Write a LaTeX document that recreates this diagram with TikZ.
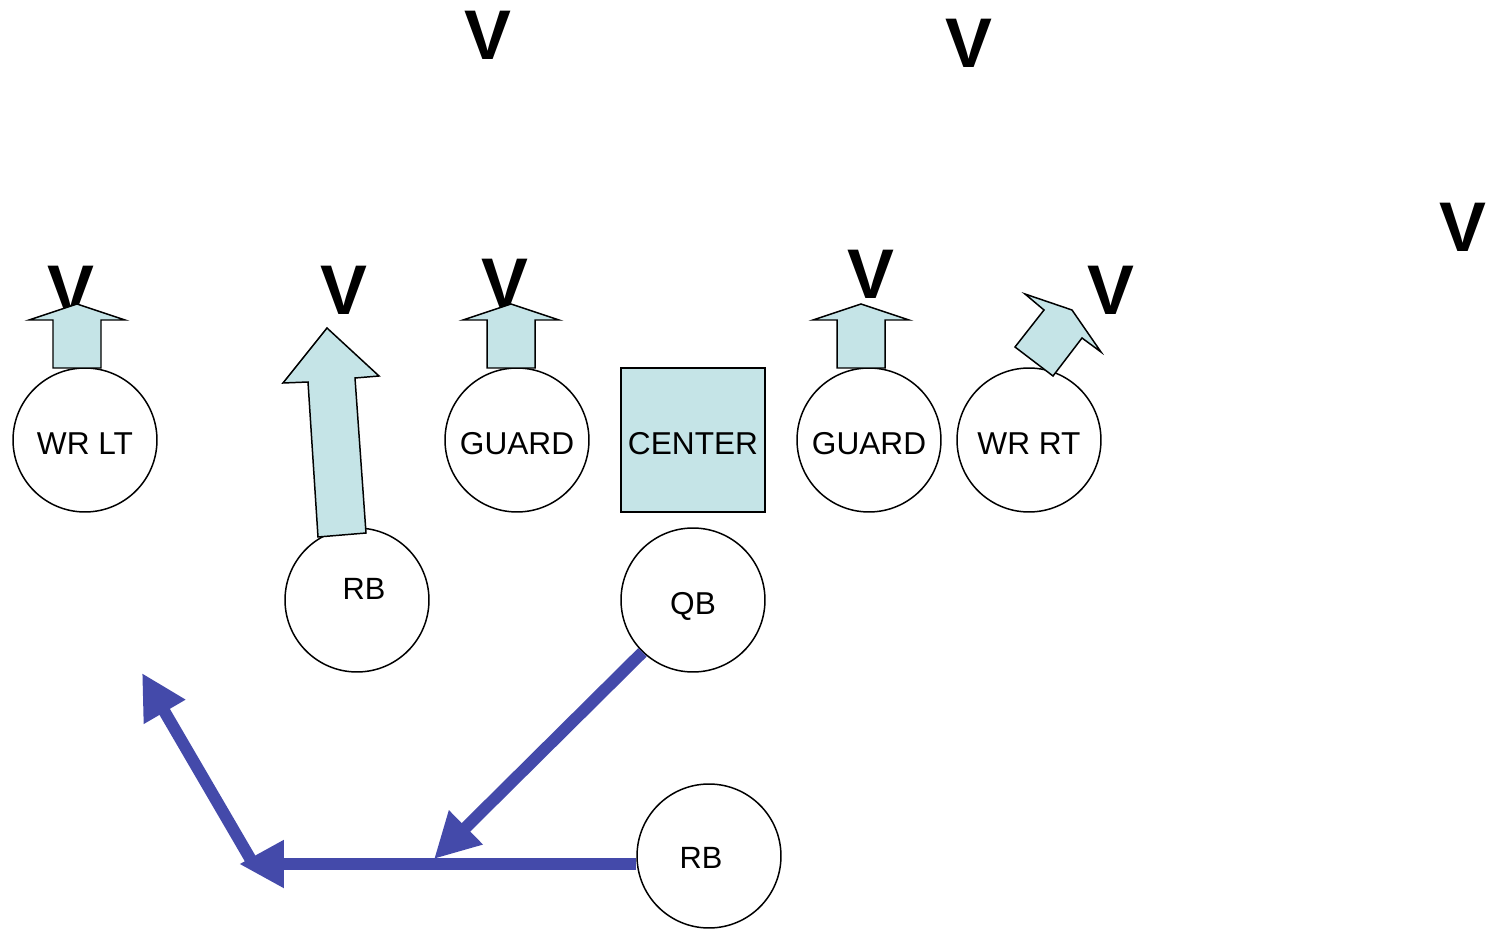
\documentclass[tikz,border=0pt]{standalone}
\usepackage{fontspec}
\setmainfont{Liberation Sans}
\usetikzlibrary{arrows.meta}
\definecolor{padblue}{RGB}{197,228,231}
\definecolor{routeblue}{RGB}{68,74,170}
\tikzset{
  player/.style={circle,draw,line width=0.85pt,minimum size=2.88cm,inner sep=0pt,
    font=\fontsize{18pt}{20pt}\selectfont,text height=0.6cm,text depth=0pt},
  snapper/.style={rectangle,draw,line width=0.85pt,fill=padblue,minimum size=2.88cm,inner sep=0pt,
    font=\fontsize{18pt}{20pt}\selectfont,text height=0.6cm,text depth=0pt},
  backtag/.style={inner sep=0pt,font=\fontsize{17.5pt}{19pt}\selectfont},
  defender/.style={inner sep=0pt,font=\fontsize{40pt}{40pt}\selectfont\bfseries},
  blockarrow/.style={draw,line width=0.85pt,fill=padblue,line join=miter},
  route/.style={draw=routeblue,line width=0.24cm,-{Triangle[length=0.9cm,width=0.9cm]}}
}
\begin{document}
\begin{tikzpicture}[x=0.02cm,y=-0.02cm]
      \useasboundingbox (0,0) rectangle (1489,929);
      \draw
        (488,35) node[defender] (v1){V}
        (969,43) node[defender] (v2){V}
        (1463,227) node[defender] (v3){V}
        (71,290) node[defender] (v4){V}
        (344,290) node[defender] (v5){V}
        (505,283) node[defender] (v6){V}
        (871,274) node[defender] (v7){V}
        (1111,290) node[defender] (v8){V};
      \draw
        (85,440) node[player] (wrlt){WR LT}
        (517,440) node[player] (guardl){GUARD}
        (693,440) node[snapper] (center){CENTER}
        (869,440) node[player] (guardr){GUARD}
        (1029,440) node[player] (wrrt){WR RT}
        (357,600) node[player,label={[backtag,xshift=0.14cm,yshift=0.22cm]center:RB}] (rbl){}
        (693,600) node[player] (qb){QB}
        (709,856) node[player,label={[backtag,xshift=-0.16cm,yshift=-0.04cm]center:RB}] (rbr){};
      % blocking arrows
      \foreach \x in {77,511,861}
        \draw[blockarrow] (\x-24,368) -- (\x-24,320) -- (\x-48,320) -- (\x,304)
          -- (\x+48,320) -- (\x+24,320) -- (\x+24,368) -- cycle;
      \draw[blockarrow] (318,537) -- (308,382) -- (283,383) -- (327,328)
        -- (379,376) -- (355,378) -- (366,533) -- cycle;
      \draw[blockarrow] (1053,376) -- (1015,347) -- (1044,310) -- (1025,294)
        -- (1072,310) -- (1101,352) -- (1082,338) -- cycle;
      % play
      \coordinate (meet) at (434,859);
      \coordinate (cut) at (239,864);
      \coordinate (turn) at (251,860);
      \coordinate (out) at (142,673);
      \begin{scope}[route]
        \draw (qb.226) to (meet);
        \draw (rbr.west |- cut) to (cut);
        \draw (turn) to (out);
      \end{scope}
    \end{tikzpicture}
\end{document}
